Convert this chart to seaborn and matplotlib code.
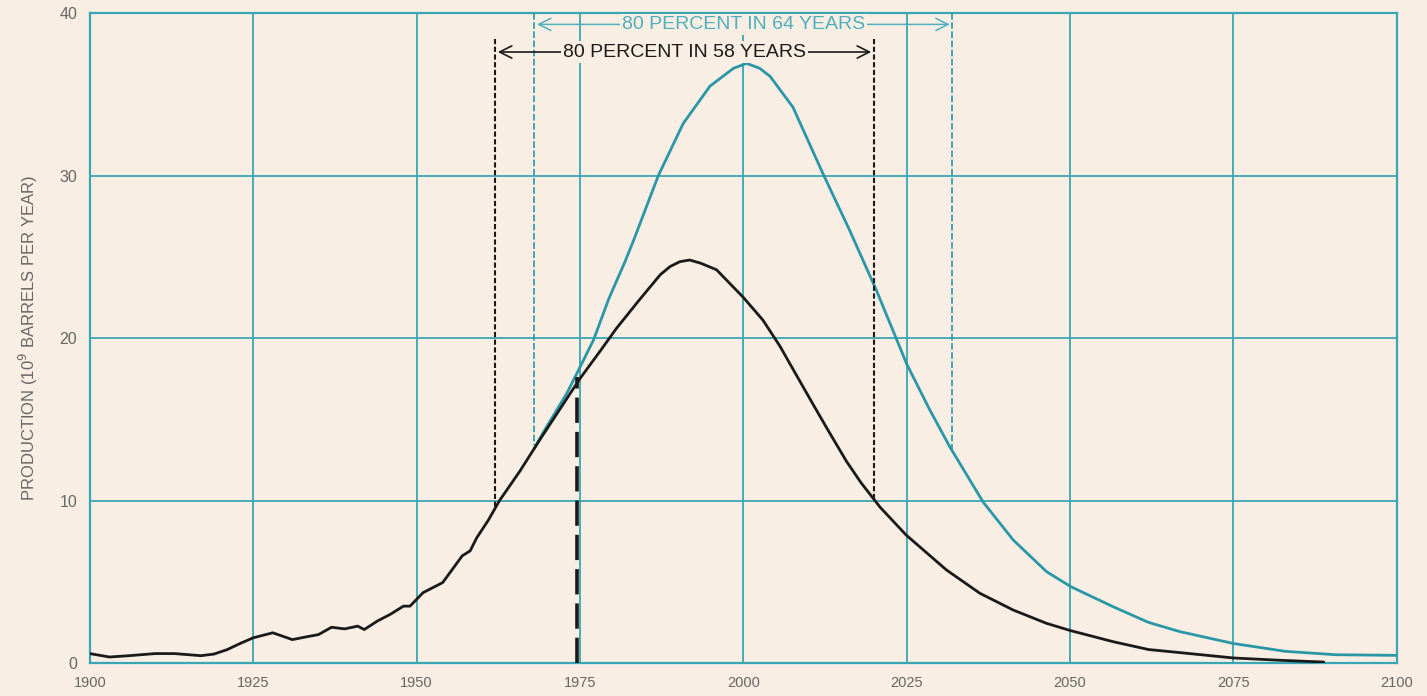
import matplotlib
matplotlib.use("Agg")
import matplotlib.pyplot as plt
import seaborn as sns
import pandas as pd

# ---------------- data ----------------
hist_years = [1900, 1903, 1906, 1910, 1913, 1917, 1919, 1921, 1923, 1925, 1928, 1931,
              1933, 1935, 1937, 1939, 1941, 1942, 1944, 1946, 1948, 1949, 1951, 1954,
              1957, 1958.2, 1959.2, 1961, 1962.7, 1965.8, 1968.8, 1971.9, 1975]
hist_vals = [0.58, 0.37, 0.45, 0.58, 0.58, 0.45, 0.55, 0.82, 1.2, 1.55, 1.86, 1.44,
             1.6, 1.75, 2.2, 2.1, 2.27, 2.06, 2.58, 3.0, 3.5, 3.5, 4.33, 4.95,
             6.6, 6.9, 7.7, 8.8, 10.0, 11.8, 13.7, 15.6, 17.5]

proj_years = [1978.1, 1980.6, 1984, 1987.3, 1988.8, 1990.3, 1991.8, 1993.5, 1995.9,
              2000, 2003, 2005.6, 2008, 2010.7, 2013, 2015.8, 2018, 2020.9, 2024.9,
              2031.1, 2036.2, 2041.3, 2046.4, 2050.1, 2056.6, 2062, 2066.8, 2075,
              2082, 2088.8]
proj_vals = [19.2, 20.6, 22.3, 23.9, 24.4, 24.7, 24.8, 24.6, 24.2,
             22.5, 21.1, 19.5, 17.8, 15.9, 14.3, 12.4, 11.1, 9.6, 7.88,
             5.72, 4.29, 3.26, 2.44, 1.99, 1.31, 0.83, 0.64, 0.31,
             0.17, 0.06]

blue_years = [1968, 1969.4, 1973, 1975, 1977.1, 1979.4, 1981.9, 1983.2, 1987, 1990.8,
              1994.9, 1998.5, 2000.5, 2002.5, 2004.1, 2007.6, 2012.2, 2016.3, 2020.4,
              2025, 2028.5, 2031.6, 2036.7, 2041.3, 2046.4, 2050.1, 2056.6, 2062,
              2066.8, 2075, 2082.9, 2090.6, 2100]
blue_vals = [13.2, 14.2, 16.6, 18.2, 19.9, 22.4, 24.7, 26.0, 30.0, 33.2,
             35.5, 36.6, 36.9, 36.6, 36.1, 34.2, 30.1, 26.6, 22.9,
             18.4, 15.6, 13.3, 9.9, 7.57, 5.62, 4.7, 3.46, 2.5,
             1.93, 1.2, 0.72, 0.51, 0.47]

x_ticks = [1900, 1925, 1950, 1975, 2000, 2025, 2050, 2075, 2100]
y_ticks = [0, 10, 20, 30, 40]

black_span = [1962, 2020]
black_span_bottom = [9.4, 10.0]
black_span_label = "80 PERCENT IN 58 YEARS"
blue_span = [1968, 2032]
blue_span_bottom = [13.4, 13.1]
blue_span_label = "80 PERCENT IN 64 YEARS"
present_year = 1974.5
present_top = 17.6

# ---------------- style ----------------
sns.set_theme(style="white")
plt.rcParams["font.family"] = ["Liberation Sans", "DejaVu Sans"]

BG = "#F8EEE4"
GRID = "#3AA6B4"
BLUE = "#2A97A6"
BLUE_TXT = "#4FAFBC"
INK = "#1A1A1A"
LABEL = "#666666"

fig = plt.figure(figsize=(14.27, 6.96), dpi=100, facecolor=BG)
ax = fig.add_axes([0.0629, 0.0474, 0.9160, 0.9339])
ax.set_facecolor(BG)

df_blue = pd.DataFrame({"year": blue_years, "prod": blue_vals})
df_black = pd.DataFrame({"year": hist_years + proj_years, "prod": hist_vals + proj_vals})

sns.lineplot(data=df_blue, x="year", y="prod", color=BLUE, lw=2.0, ax=ax, zorder=4,
             solid_joinstyle="round", solid_capstyle="round")
sns.lineplot(data=df_black, x="year", y="prod", color=INK, lw=2.0, ax=ax, zorder=5,
             solid_joinstyle="round", solid_capstyle="round")

ax.set_xlim(1900, 2100)
ax.set_ylim(0, 40)
ax.set_xticks(x_ticks)
ax.set_yticks(y_ticks)
ax.set_xticklabels([str(t) for t in x_ticks])
ax.set_yticklabels([str(t) for t in y_ticks])
ax.grid(True, color=GRID, lw=1.3, zorder=1)
ax.set_axisbelow(True)
for s in ax.spines.values():
    s.set_color(GRID)
    s.set_linewidth(1.6)
ax.tick_params(length=0, colors=LABEL)
ax.tick_params(axis="x", pad=9, labelsize=10.5)
ax.tick_params(axis="y", pad=9, labelsize=11.5)
ax.set_xlabel("")
ax.set_ylabel("PRODUCTION (10$^9$ BARRELS PER YEAR)", fontsize=12, color=LABEL, labelpad=14)

# span markers
ax.vlines(black_span, 38.4, black_span_bottom, colors=INK, lw=1.5,
          linestyles=(0, (2.5, 1.2)), zorder=6)
ax.vlines(blue_span, 40, blue_span_bottom, colors=BLUE, lw=1.2,
          linestyles=(0, (4, 1.5)), zorder=3)
ax.vlines([present_year], 0, present_top, colors=INK, lw=2.6,
          linestyles=(0, (7, 2.5)), zorder=6)

# arrows with labels
ax.annotate("", xy=(blue_span[0], 39.3), xytext=(blue_span[1], 39.3),
            arrowprops=dict(arrowstyle="<->", color=BLUE_TXT, lw=1.1, mutation_scale=22),
            zorder=7)
ax.text(sum(blue_span) / 2, 39.3, blue_span_label, ha="center", va="center",
        fontsize=14, color=BLUE_TXT, zorder=8,
        bbox=dict(fc=BG, ec="none", pad=1.5))
ax.annotate("", xy=(black_span[0], 37.6), xytext=(black_span[1], 37.6),
            arrowprops=dict(arrowstyle="<->", color=INK, lw=1.2, mutation_scale=22),
            zorder=7)
ax.text(sum(black_span) / 2, 37.6, black_span_label, ha="center", va="center",
        fontsize=14, color=INK, zorder=8,
        bbox=dict(fc=BG, ec="none", pad=1.5))

fig.savefig("out.png", dpi=100, facecolor=BG)
